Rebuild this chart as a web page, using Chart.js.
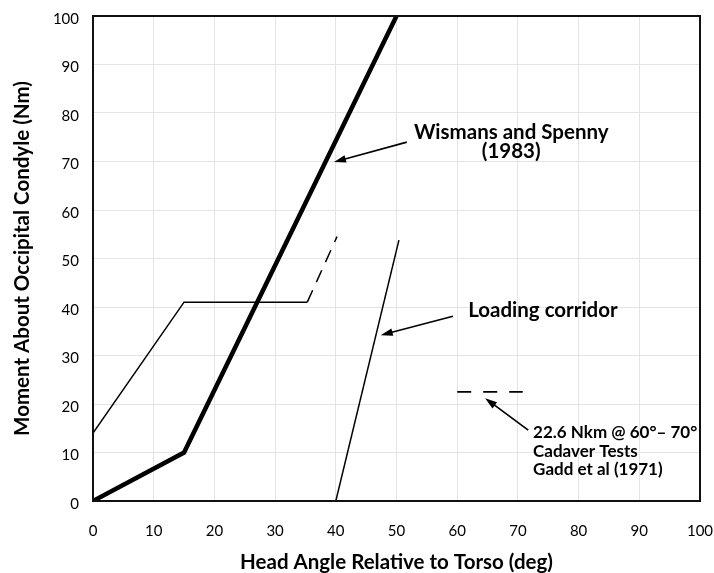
<!DOCTYPE html>
<html>
<head>
<meta charset="utf-8">
<script src="https://cdn.jsdelivr.net/npm/chart.js@4"></script>
<style>
  html, body { margin: 0; padding: 0; background: #fff; }
  #wrap { width: 714px; height: 573px; }
</style>
</head>
<body>
<div id="wrap"><canvas id="myChart" width="714" height="573"></canvas></div>
<script>
// ***** Data *****
const xTicks = [0, 10, 20, 30, 40, 50, 60, 70, 80, 90, 100];
const yTicks = [0, 10, 20, 30, 40, 50, 60, 70, 80, 90, 100];

const wismansX = [0, 15, 50];
const wismansY = [0, 10, 100];

const corridorUpperX = [0, 15, 35.3];
const corridorUpperY = [14, 41, 41];
const corridorDashX = [35.3, 40.2];
const corridorDashY = [41, 54.5];
const corridorLowerX = [40, 50.4];
const corridorLowerY = [0, 53.8];

const gaddX = [60, 70.8];
const gaddY = [22.5, 22.5];

// annotation texts and arrows (data units)
const notes = [
  { lines: ['Wismans and Spenny', '(1983)'], x: 68.9, y: 76.1, align: 'center', size: 20.5, gap: 4.1,
    arrow: [51.7, 74.0, 39.7, 69.9] },
  { lines: ['Loading corridor'], x: 61.8, y: 39.4, align: 'left', size: 20.5, gap: 4,
    arrow: [59.3, 38.1, 47.4, 34.2] },
  { lines: ['22.6 Nkm @ 60\u00b0\u2013 70\u00b0', 'Cadaver Tests', 'Gadd et al (1971)'], x: 72.5, y: 14.2, align: 'left', size: 17,
    gap: 3.9, arrow: [71.7, 14.6, 64.6, 21.2] }
];

const toPoints = (xs, ys) => xs.map((x, i) => ({ x, y: ys[i] }));

// ***** Plugins *****
const boxPlugin = {
  id: 'box',
  afterDatasetsDraw(chart) {
    const { ctx, chartArea: a } = chart;
    ctx.save();
    ctx.strokeStyle = '#111';
    ctx.lineWidth = 2;
    ctx.strokeRect(a.left, a.top, a.right - a.left, a.bottom - a.top);
    ctx.restore();
  }
};

const notesPlugin = {
  id: 'notes',
  afterDraw(chart) {
    const { ctx } = chart;
    const sx = chart.scales.x;
    const sy = chart.scales.y;
    ctx.save();
    notes.forEach((n) => {
      ctx.font = 'bold ' + n.size + 'px Lato, "DejaVu Sans", sans-serif';
      ctx.fillStyle = '#000';
      ctx.textAlign = n.align;
      ctx.textBaseline = 'middle';
      const px = sx.getPixelForValue(n.x);
      const py = sy.getPixelForValue(n.y);
      const step = sy.getPixelForValue(0) - sy.getPixelForValue(n.gap);
      n.lines.forEach((l, i) => ctx.fillText(l, px, py + i * step));

      // arrow
      const [x1, y1, x2, y2] = n.arrow;
      const ax = sx.getPixelForValue(x1), ay = sy.getPixelForValue(y1);
      const bx = sx.getPixelForValue(x2), by = sy.getPixelForValue(y2);
      const ang = Math.atan2(by - ay, bx - ax);
      const hl = 12, hw = 3.8;
      ctx.strokeStyle = '#000';
      ctx.lineWidth = 1.7;
      ctx.beginPath();
      ctx.moveTo(ax, ay);
      ctx.lineTo(bx - Math.cos(ang) * hl * 0.8, by - Math.sin(ang) * hl * 0.8);
      ctx.stroke();
      ctx.beginPath();
      ctx.moveTo(bx, by);
      ctx.lineTo(bx - Math.cos(ang) * hl - Math.sin(ang) * hw, by - Math.sin(ang) * hl + Math.cos(ang) * hw);
      ctx.lineTo(bx - Math.cos(ang) * hl + Math.sin(ang) * hw, by - Math.sin(ang) * hl - Math.cos(ang) * hw);
      ctx.closePath();
      ctx.fillStyle = '#000';
      ctx.fill();
    });
    ctx.restore();
  }
};

// ***** Chart *****
const lineDs = (data, width, dash) => ({
  data,
  borderColor: '#000',
  borderWidth: width,
  borderDash: dash || [],
  pointRadius: 0,
  fill: false,
  tension: 0
});

const configChart = {
  type: 'line',
  data: {
    datasets: [
      lineDs(toPoints(wismansX, wismansY), 4.5),
      lineDs(toPoints(corridorUpperX, corridorUpperY), 1.5),
      lineDs(toPoints(corridorDashX, corridorDashY), 1.5, [13, 9]),
      lineDs(toPoints(corridorLowerX, corridorLowerY), 1.5),
      lineDs(toPoints(gaddX, gaddY), 1.8, [14, 12])
    ]
  },
  options: {
    responsive: false,
    animation: false,
    layout: { padding: { top: 16, right: 14, left: 0, bottom: 0 } },
    plugins: { legend: { display: false }, tooltip: { enabled: false } },
    scales: {
      x: {
        type: 'linear',
        min: 0,
        max: 100,
        afterBuildTicks: (s) => { s.ticks = xTicks.map((v) => ({ value: v })); },
        afterFit: (s) => {
          s.height = 72;
          s.paddingLeft = 0;
          s.paddingRight = 0;
        },
        grid: { color: '#e4e4e4', drawTicks: false },
        border: { color: '#111', width: 2 },
        ticks: {
          padding: 21,
          color: '#000',
          font: { family: 'Lato, sans-serif', size: 15 }
        },
        title: {
          display: true,
          text: 'Head Angle Relative to Torso (deg)',
          color: '#000',
          padding: { top: 0, bottom: 0 },
          font: { family: 'Lato, sans-serif', size: 20.5, weight: 'bold', lineHeight: 1 }
        }
      },
      y: {
        type: 'linear',
        min: 0,
        max: 100,
        afterBuildTicks: (s) => { s.ticks = yTicks.map((v) => ({ value: v })); },
        afterFit: (s) => {
          s.width = 93;
          s.paddingTop = 0;
          s.paddingBottom = 0;
        },
        grid: { color: '#e4e4e4', drawTicks: false },
        border: { color: '#111', width: 2 },
        ticks: {
          padding: 14,
          labelOffset: 3,
          color: '#000',
          font: { family: 'Lato, sans-serif', size: 15 }
        },
        title: {
          display: true,
          text: 'Moment About Occipital Condyle (Nm)',
          color: '#000',
          padding: { top: 12, bottom: 0 },
          font: { family: 'Lato, sans-serif', size: 20.5, weight: 'bold', lineHeight: 1 }
        }
      }
    }
  },
  plugins: [boxPlugin, notesPlugin]
};

const momentChart = new Chart(document.getElementById('myChart'), configChart);
</script>
</body>
</html>
